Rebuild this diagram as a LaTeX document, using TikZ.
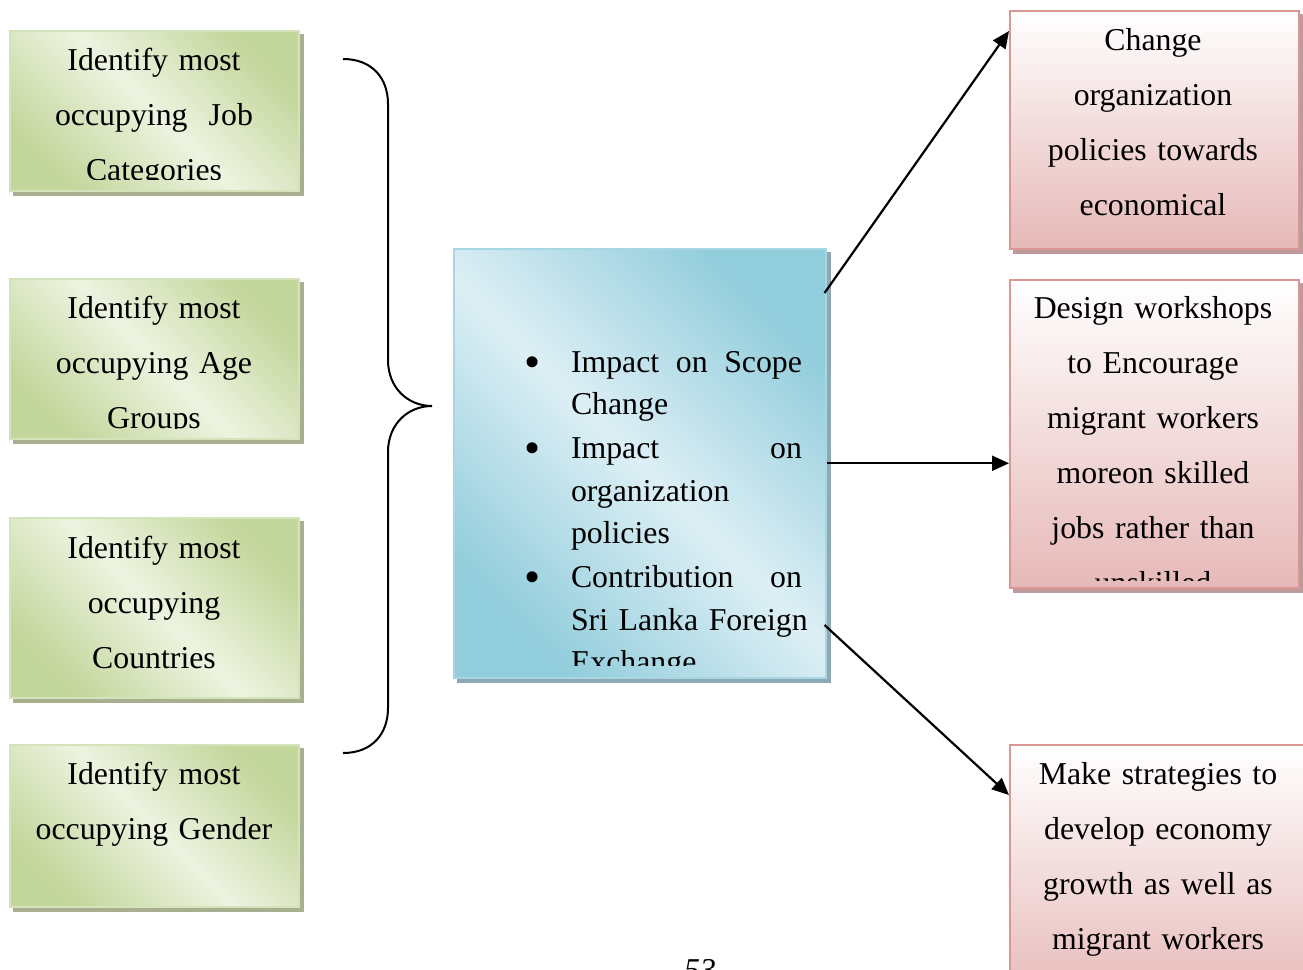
\documentclass[tikz,border=0pt]{standalone}
\usepackage{fontspec}
\setmainfont{Liberation Serif}
\usetikzlibrary{arrows.meta,backgrounds}
\definecolor{gL}{HTML}{EDF3E0}
\definecolor{gD}{HTML}{C3D69B}
\definecolor{gB}{HTML}{D5E3BB}
\definecolor{gS}{HTML}{A8AF8F}
\definecolor{bL}{HTML}{DDEFF5}
\definecolor{bD}{HTML}{92CDDC}
\definecolor{bB}{HTML}{A8D7E4}
\definecolor{bS}{HTML}{8FA9B4}
\definecolor{rD}{HTML}{E6B9B8}
\definecolor{rB}{HTML}{D99694}
\definecolor{rS}{HTML}{BF9A9A}
\tikzset{
  boxbase/.style={line width=1.5pt, inner sep=0pt, anchor=north west},
  gbox/.style={boxbase, draw=gB, left color=gD, right color=gD, middle color=gL, shading angle=135},
  bbox/.style={boxbase, draw=bB, left color=bD, right color=bD, middle color=bL, shading angle=135},
  rbox/.style={boxbase, draw=rB, top color=white, bottom color=rD},
  txt/.style={font=\fontsize{31.8}{55}\selectfont, text width=#1, align=center, inner sep=0pt, anchor=base},
  txt/.default=290,
  arr/.style={line width=2.2pt, -{Triangle[length=17pt,width=15pt]}},
}
\newcommand{\blt}{\llap{\raisebox{-5pt}{\fontsize{46}{46}\selectfont\textbullet}\hspace{30pt}}}
\newcommand{\fl}[1]{\hbox to 231pt{#1}}
\begin{document}
\begin{tikzpicture}[x=1pt,y=-1pt]
\useasboundingbox (0,0) rectangle (1303,969);
% green boxes
\node[gbox, minimum width=289, minimum height=160] (g1) at (9,30) {};
\node[gbox, minimum width=289, minimum height=160] (g2) at (9,278) {};
\node[gbox, minimum width=289, minimum height=180] (g3) at (9,517) {};
\node[gbox, minimum width=289, minimum height=162] (g4) at (9,744) {};
% blue box
\node[bbox, minimum width=372, minimum height=429] (b) at (453,248) {};
% red boxes
\node[rbox, minimum width=289, minimum height=238] (r1) at (1009,10) {};
\node[rbox, minimum width=289, minimum height=308] (r2) at (1009,279) {};
\node[rbox, minimum width=298, minimum height=260] (r3) at (1009,744) {};
% shadows
\begin{scope}[on background layer]
  \foreach \n/\c in {g1/gS,g2/gS,g3/gS,g4/gS,b/bS,r1/rS,r2/rS,r3/rS}{
    \fill[\c] ([shift={(4,4)}]\n.north west) rectangle ([shift={(4,4)}]\n.south east);
  }
\end{scope}
% green texts
\begin{scope}
  \clip (9,30) rectangle (298,179);
  \node[txt] (g1t) at (154,70) {Identify most\\occupying\ \ Job\\Categories};
\end{scope}
\begin{scope}
  \clip (9,278) rectangle (298,428);
  \node[txt] (g2t) at (154,318) {Identify most\\occupying Age\\Groups};
\end{scope}
\node[txt] (g3t) at (154,558) {Identify most\\occupying\\Countries};
\node[txt] (g4t) at (154,784) {Identify most\\occupying Gender};
% blue text
\begin{scope}
  \clip (453,248) rectangle (825,665);
  \node[font=\fontsize{31.8}{42.5}\selectfont, text width=231, inner sep=0pt, anchor=base] (bt) at (686.5,372)
  {\fl{\blt Impact\hfill on\hfill Scope}
   \fl{Change\hfill}
   \vskip1.5pt
   \fl{\blt Impact\hfill on}
   \fl{organization\hfill}
   \fl{policies\hfill}
   \vskip1.5pt
   \fl{\blt Contribution\hfill on}
   \fl{Sri Lanka Foreign\hss}
   \fl{Exchange\hfill}};
\end{scope}
% red texts
\node[txt] (r1t) at (1153,50) {Change\\organization\\policies towards\\economical};
\begin{scope}
  \clip (1009,279) rectangle (1298,580);
  \node[txt] (r2t) at (1153,318) {Design workshops\\to Encourage\\migrant workers\\moreon skilled\\jobs rather than\\unskilled};
\end{scope}
\node[txt] (r3t) at (1158,784) {Make strategies to\\develop economy\\growth as well as\\migrant workers};
% brace
\draw[line width=2pt] (343,59) .. controls (372,59) and (388,78) .. (388,104) -- (388,360)
  .. controls (388,388) and (408,406) .. (432,406)
  .. controls (408,406) and (388,424) .. (388,452) -- (388,708)
  .. controls (388,734) and (372,753) .. (343,753);
% arrows
\draw[arr] ([shift={(-2,45)}]b.north east) -- ([shift={(0,21)}]r1.north west);
\draw[arr] (b.east) -- (b.east -| r2.west);
\draw[arr] ([shift={(-2,377)}]b.north east) -- ([shift={(0,51)}]r3.north west);
% page number
\node[font=\fontsize{31.8}{38}\selectfont\itshape, anchor=base, inner sep=0pt] (pg) at (700,980) {53};
\end{tikzpicture}
\end{document}
